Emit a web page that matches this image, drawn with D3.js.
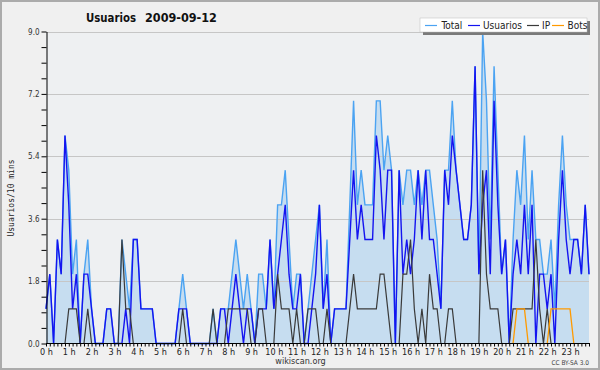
<!DOCTYPE html>
<html><head><meta charset="utf-8">
<script src="https://cdn.jsdelivr.net/npm/d3@7"></script>
<style>body{margin:0;background:#f0f0f0}svg{display:block}</style>
</head><body><svg width="600" height="370"></svg>
<script>
const titleMain = "Usuarios";
const titleDate = "2009-09-12";
const yLabel = "Usuarios/10 mins";
const hourLabels = d3.range(24).map(h => h + " h");
const yTickLabels = [0, 1.8, 3.6, 5.4, 7.2, 9.0];
const seriesNames = ["Total", "Usuarios", "IP", "Bots"];

const total = [
1,2,0,3,2,6,5,2,3,0,
2,3,1,0,0,0,1,1,0,0,
3,2,1,3,3,1,1,1,1,0,
0,0,0,0,0,1,2,1,0,0,
0,0,0,0,1,0,1,1,1,2,
3,2,1,2,1,0,2,2,1,3,
1,4,4,5,3,1,2,2,0,1,
2,3,4,1,3,0,1,1,1,1,
4,7,4,5,4,4,4,7,7,5,
6,5,0,5,4,5,5,4,5,4,
5,5,4,3,1,5,5,7,5,4,
3,3,4,8,2,9,7,3,8,5,
2,3,0,3,5,4,6,3,5,3,
3,2,2,3,1,4,6,4,3,3,
3,2,4,2];
const usuarios = [
1,2,0,3,2,6,4,1,2,0,
2,2,1,0,0,0,1,1,0,0,
0,1,0,3,3,1,1,1,1,0,
0,0,0,0,0,1,1,1,0,0,
0,0,0,0,0,0,1,1,0,1,
2,1,0,1,1,0,1,1,1,3,
1,2,3,4,2,1,1,2,0,0,
1,2,4,1,2,0,1,1,1,1,
3,5,3,4,3,3,3,6,5,3,
5,5,0,5,2,3,2,3,5,3,
5,3,3,2,1,5,4,6,5,4,
3,3,4,8,2,4,5,2,7,4,
2,3,0,2,3,2,4,2,4,0,
2,2,1,2,0,3,5,3,2,3,
3,2,4,2];
const ip = [
0,0,0,0,0,0,1,1,1,0,
0,1,0,0,0,0,0,0,0,0,
3,1,1,0,0,0,0,0,0,0,
0,0,0,0,0,0,1,0,0,0,
0,0,0,0,1,0,0,0,1,1,
1,1,1,1,0,0,1,1,0,0,
0,2,1,1,1,0,1,0,0,1,
1,1,0,0,1,0,0,0,0,0,
1,2,1,1,1,1,1,1,2,2,
1,0,0,0,2,2,3,1,0,1,
0,2,1,1,0,0,1,1,0,0,
0,0,0,0,0,5,2,1,1,1,
0,0,0,1,1,1,1,1,1,3,
1,0,1,0,0,0,0,0,0,0,
0,0,0,0];
const bots = [
0,0,0,0,0,0,0,0,0,0,
0,0,0,0,0,0,0,0,0,0,
0,0,0,0,0,0,0,0,0,0,
0,0,0,0,0,0,0,0,0,0,
0,0,0,0,0,0,0,0,0,0,
0,0,0,0,0,0,0,0,0,0,
0,0,0,0,0,0,0,0,0,0,
0,0,0,0,0,0,0,0,0,0,
0,0,0,0,0,0,0,0,0,0,
0,0,0,0,0,0,0,0,0,0,
0,0,0,0,0,0,0,0,0,0,
0,0,0,0,0,0,0,0,0,0,
0,0,0,0,1,1,1,0,0,0,
0,0,0,1,1,1,1,1,1,0,
0,0,0,0];

const colors = {Total: "#4ba3f2", Usuarios: "#1414f0", IP: "#3a3a3a", Bots: "#ff9a00"};
const COND = "'DejaVu Sans Condensed','DejaVu Sans',sans-serif";

const svg = d3.select("svg");
svg.append("rect").attr("x", 1).attr("y", 1).attr("width", 598).attr("height", 368)
  .attr("fill", "#f0f0f0").attr("stroke", "#ababab").attr("stroke-width", 2);

const x = d3.scaleLinear().domain([0, 143]).range([46, 589]);
const y = d3.scaleLinear().domain([0, 9]).range([343.5, 31.5]);
const idx = d3.range(total.length);

svg.append("rect").attr("x", 46).attr("y", 31.5).attr("width", 543).attr("height", 312).attr("fill", "#eef0f2");

svg.append("path").datum(idx)
  .attr("d", d3.area().x(i => x(i)).y0(y(0)).y1(i => y(total[i])))
  .attr("fill", "#c6ddf0");

svg.append("g").selectAll("line").data(yTickLabels.filter(v => v > 0)).join("line")
  .attr("x1", 46).attr("x2", 589).attr("y1", d => Math.round(y(d)) + 0.5).attr("y2", d => Math.round(y(d)) + 0.5)
  .attr("stroke", "#c6c6c6").attr("stroke-width", 1);

const mk = arr => d3.line().x(i => x(i)).y(i => y(arr[i]));
const seriesData = [total, usuarios, ip, bots];
seriesNames.forEach((name, k) => {
  const arr = seriesData[k];
  if (name === "Bots") {
    svg.append("path").datum(idx)
      .attr("d", d3.line().defined(i => arr[i] > 0 || arr[i-1] > 0 || arr[i+1] > 0).x(i => x(i)).y(i => y(arr[i]))(idx))
      .attr("fill", "none").attr("stroke", colors[name]).attr("stroke-width", 1.3);
    return;
  }
  svg.append("path").datum(idx).attr("d", mk(arr))
    .attr("fill", "none").attr("stroke", colors[name])
    .attr("stroke-width", name === "IP" ? 1.2 : 1.4);
});

// axes
const xAxis = d3.axisBottom(x).tickValues(idx).tickSize(3).tickSizeOuter(0).tickPadding(2)
  .tickFormat(i => i % 6 === 0 ? hourLabels[i / 6] : "");
const gx = svg.append("g").attr("transform", "translate(0,343.5)").call(xAxis);
gx.select(".domain").attr("stroke", "#000").attr("d", "M46,0H590");
gx.selectAll(".tick line").attr("stroke", "#000");
gx.selectAll("text").attr("font-family", COND).attr("font-size", 9).attr("fill", "#222");

const yAxis = d3.axisLeft(y).tickValues(d3.range(0, 21).map(k => k * 0.45)).tickSize(5).tickSizeOuter(0).tickPadding(2)
  .tickFormat(v => yTickLabels.some(t => Math.abs(t - v) < 1e-6) ? d3.format(".1f")(v) : "");
const gy = svg.append("g").attr("transform", "translate(46.5,0)").call(yAxis);
gy.select(".domain").attr("stroke", "#000");
gy.selectAll(".tick line").attr("stroke", "#000");
gy.selectAll("text").attr("font-family", COND).attr("font-size", 8).attr("fill", "#333");

// title
svg.append("text").attr("x", 86).attr("y", 22).attr("font-family", COND).attr("font-weight", "bold")
  .attr("font-size", 12.5).attr("fill", "#111").attr("textLength", 50).attr("lengthAdjust", "spacingAndGlyphs").text(titleMain);
svg.append("text").attr("x", 145).attr("y", 22).attr("font-family", COND).attr("font-weight", "bold")
  .attr("font-size", 12.5).attr("fill", "#111").text(titleDate);

// y label
svg.append("text").attr("transform", "translate(14,198) rotate(-90)").attr("text-anchor", "middle")
  .attr("font-family", "'DejaVu Sans Mono',monospace").attr("font-size", 8).attr("fill", "#222").text(yLabel);

// footer
svg.append("text").attr("x", 300.5).attr("y", 364).attr("text-anchor", "middle").attr("font-family", COND)
  .attr("font-size", 9).attr("fill", "#333").text("wikiscan.org");
svg.append("text").attr("x", 589).attr("y", 365).attr("text-anchor", "end").attr("font-family", COND)
  .attr("font-size", 6.5).attr("fill", "#444").text("CC BY-SA 3.0");

// legend
const lg = svg.append("g");
lg.append("rect").attr("x", 423).attr("y", 21).attr("width", 167).attr("height", 14).attr("fill", "#7a7a7a");
lg.append("rect").attr("x", 420).attr("y", 18).attr("width", 167).attr("height", 14).attr("fill", "#fff")
  .attr("stroke", "#bdbdbd").attr("stroke-width", 0.5);
const legPos = [[425, 441.5], [468, 483], [527, 542], [552, 567.5]];
seriesNames.forEach((name, k) => {
  const [lx, tx] = legPos[k];
  lg.append("line").attr("x1", lx).attr("x2", lx + 12).attr("y1", 25.5).attr("y2", 25.5)
    .attr("stroke", colors[name]).attr("stroke-width", 1.2);
  lg.append("text").attr("x", tx).attr("y", 29).attr("font-family", COND).attr("font-size", 10)
    .attr("fill", "#222").text(name);
});
</script>
</body></html>
